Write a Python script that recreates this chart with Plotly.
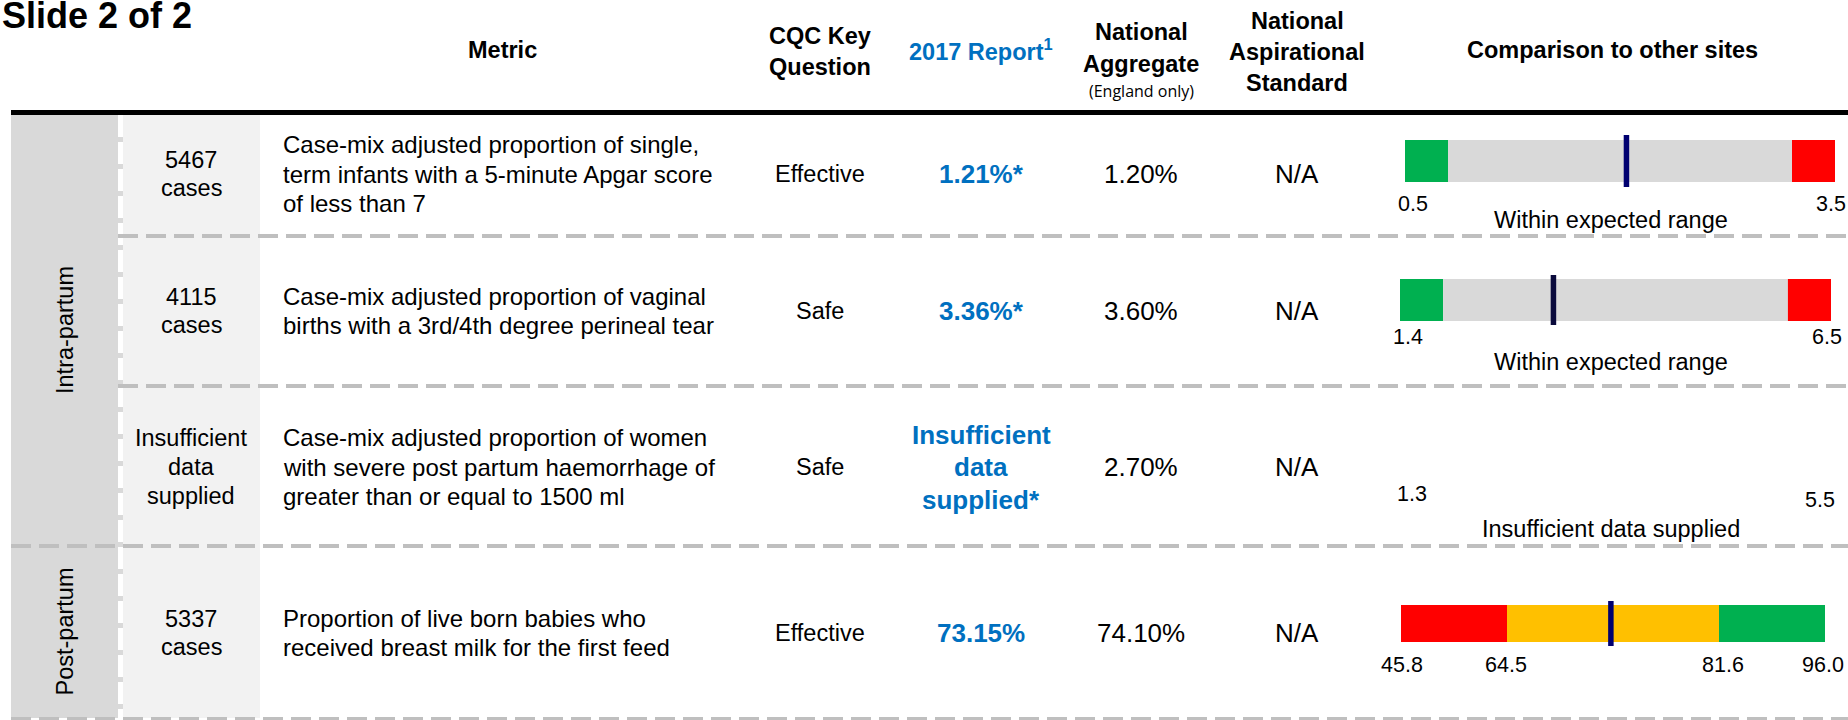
import plotly.graph_objects as go

# ---------------- data ----------------
slide_title = "Slide 2 of 2"
headers_metric = ["Metric"]
headers_cqc = ["CQC Key", "Question"]
headers_report = ["2017 Report<sup>1</sup>"]
headers_agg = ["National", "Aggregate"]
headers_agg_note = "(England only)"
headers_asp = ["National", "Aspirational", "Standard"]
headers_cmp = ["Comparison to other sites"]

sections = ["Intra-partum", "Post-partum"]
section_rows = [[0, 1, 2], [3]]

cases = [["5467", "cases"], ["4115", "cases"], ["Insufficient", "data", "supplied"], ["5337", "cases"]]
metrics = [
    ["Case-mix adjusted proportion of single,", "term infants with a 5-minute Apgar score", "of less than 7"],
    ["Case-mix adjusted proportion of vaginal", "births with a 3rd/4th degree perineal tear"],
    ["Case-mix adjusted proportion of women", "with severe post partum haemorrhage of", "greater than or equal to 1500 ml"],
    ["Proportion of live born babies who", "received breast milk for the first feed"],
]
cqc_question = ["Effective", "Safe", "Safe", "Effective"]
report_2017 = [["1.21%*"], ["3.36%*"], ["Insufficient", "data", "supplied*"], ["73.15%"]]
national_aggregate = ["1.20%", "3.60%", "2.70%", "74.10%"]
aspirational = ["N/A", "N/A", "N/A", "N/A"]

# comparison bars (percentile scale 0-100 of each bar)
seg_bounds = [[0, 10, 90, 100], [0, 10, 90, 100], None, [0, 25, 75, 100]]
seg_colors = [["#00b050", "#d9d9d9", "#ff0000"], ["#00b050", "#d9d9d9", "#ff0000"], None,
              ["#ff0000", "#ffc000", "#00b050"]]
marker_pct = [51.5, 35.6, None, 49.5]
range_labels = [["0.5", "3.5"], ["1.4", "6.5"], ["1.3", "5.5"], ["45.8", "64.5", "81.6", "96.0"]]
range_label_pct = [[0, 100], [0, 100], [0, 100], [0, 25, 75, 100]]
status = ["Within expected range", "Within expected range", "Insufficient data supplied", ""]

# ---------------- layout / style ----------------
W, H = 1848, 720
FONT = "Liberation Sans, Arial, sans-serif"
BLUE = "#0070c0"
DASH = "#bfbfbf"
HDR = 23.5
marker_colors = ["#000070", "#0a0a3c", None, "#000070"]

row_top = [115, 236, 386, 546]
row_bot = [236, 386, 546, 718]
row_mid = [174, 311, 467, 633]

bar_x = [(1405, 1835), (1400, 1831), (1400, 1831), (1401, 1825)]
bar_y = [(140, 182), (279, 321), (279, 321), (605, 642)]
marker_ext = [5, 4, 0, 4]
label_y = [[204, 204], [337, 337], [494, 500], [665, 665, 665, 665]]
label_shift = [[8, -4], [8, -4], [12, -11], [1, -1, 4, -2]]
status_y = [220, 362, 529, None]


def px(x):
    return x / W


def py(y):
    return 1 - y / H


fig = go.Figure()


def add_text(x, y, text, size, color="#000000", bold=False, anchor="center", family=FONT, angle=0):
    fig.add_annotation(x=px(x), y=py(y), xref="paper", yref="paper",
                       text=f"<b>{text}</b>" if bold else text, showarrow=False,
                       xanchor=anchor, yanchor="middle", textangle=angle,
                       font=dict(size=size, color=color, family=family))


def add_lines(x, yc, lines, spacing, size, **kw):
    n = len(lines)
    for i, line in enumerate(lines):
        add_text(x, yc + (i - (n - 1) / 2) * spacing, line, size, **kw)


shapes = []
# column backgrounds
shapes.append(dict(type="rect", xref="paper", yref="paper", x0=px(11), x1=px(123), y0=py(718), y1=py(115),
                   fillcolor="#d9d9d9", line=dict(width=0), layer="below"))
shapes.append(dict(type="rect", xref="paper", yref="paper", x0=px(123), x1=px(260), y0=py(718), y1=py(115),
                   fillcolor="#f2f2f2", line=dict(width=0), layer="below"))
# white dashed separator
shapes.append(dict(type="line", xref="paper", yref="paper", x0=px(120.5), x1=px(120.5), y0=py(115), y1=py(718),
                   line=dict(color="white", width=5, dash="22px,5px")))
# row separators
for y, x0 in [(236, 118), (386, 118), (546, 11), (718.5, 11)]:
    shapes.append(dict(type="line", xref="paper", yref="paper", x0=px(x0), x1=px(1848), y0=py(y), y1=py(y),
                       line=dict(color=DASH, width=4 if y < 700 else 3, dash="20px,8px")))
# header rule
shapes.append(dict(type="line", xref="paper", yref="paper", x0=px(11), x1=px(1848), y0=py(112.5), y1=py(112.5),
                   line=dict(color="black", width=5)))

# title and headers
add_text(0, 15, slide_title, 36, bold=True, anchor="left")
add_lines(502, 50, headers_metric, 30, HDR, bold=True)
add_lines(820, 51, headers_cqc, 31, HDR, bold=True)
add_lines(981, 50, headers_report, 31, HDR, bold=True, color=BLUE)
add_lines(1141, 48, headers_agg, 32, HDR, bold=True)
add_text(1141, 91, headers_agg_note, 16, family="Open Sans, sans-serif")
add_lines(1297, 52, headers_asp, 31, HDR, bold=True)
add_lines(1612, 50, headers_cmp, 30, HDR, bold=True)

# sections
for name, rows in zip(sections, section_rows):
    yc = (row_top[rows[0]] + row_bot[rows[-1]]) / 2
    add_text(64.5, yc, name, 23.5, angle=-90)

# table rows
for i in range(4):
    yc = row_mid[i]
    add_lines(191, yc, cases[i], 29 if len(cases[i]) > 2 else 28, 23.5)
    add_lines(281, yc, metrics[i], 29, 24, anchor="left")
    add_text(820, yc, cqc_question[i], 23.5)
    add_lines(981, yc, report_2017[i], 32.5, 26, bold=True, color=BLUE)
    add_text(1141, yc, national_aggregate[i], 26)
    add_text(1297, yc, aspirational[i], 26)

# comparison bars
layout_axes = {}
for i in range(4):
    k = "" if i == 0 else str(i + 1)
    ext = marker_ext[i]
    y0, y1 = bar_y[i]
    half = 0.5 * (y1 - y0 + 2 * ext) / (y1 - y0)
    layout_axes[f"xaxis{k}"] = dict(domain=[px(bar_x[i][0]), px(bar_x[i][1])], range=[0, 100], visible=False,
                                    anchor=f"y{k}", fixedrange=True)
    layout_axes[f"yaxis{k}"] = dict(domain=[py(y1 + ext), py(y0 - ext)], range=[-half, half], visible=False,
                                    anchor=f"x{k}", fixedrange=True)
    if seg_bounds[i] is not None:
        b = seg_bounds[i]
        fig.add_trace(go.Bar(x=[b[j + 1] - b[j] for j in range(len(b) - 1)], base=b[:-1],
                             y=[0] * (len(b) - 1), width=1, orientation="h",
                             marker=dict(color=seg_colors[i], line=dict(width=0)),
                             xaxis=f"x{k}", yaxis=f"y{k}", showlegend=False, hoverinfo="skip"))
        fig.add_trace(go.Scatter(x=[marker_pct[i], marker_pct[i]], y=[-half, half], mode="lines",
                                 line=dict(color=marker_colors[i], width=5.5),
                                 xaxis=f"x{k}", yaxis=f"y{k}", showlegend=False, hoverinfo="skip"))
    for lab, pos, ly, sh in zip(range_labels[i], range_label_pct[i], label_y[i], label_shift[i]):
        fig.add_annotation(x=pos, y=py(ly), xref=f"x{k}", yref="paper", text=lab, showarrow=False,
                           xanchor="center", yanchor="middle", xshift=sh,
                           font=dict(size=21.5, color="#000000", family=FONT))
    if status[i]:
        add_text(1611, status_y[i], status[i], 23.5)

fig.update_layout(
    width=W, height=H, margin=dict(l=0, r=0, t=0, b=0),
    paper_bgcolor="white", plot_bgcolor="rgba(0,0,0,0)",
    shapes=shapes, barmode="overlay", showlegend=False,
    **layout_axes,
)

fig.write_html("out.html", config={"displayModeBar": False},
               post_script="document.body.style.margin='0';document.body.style.overflow='hidden';")
